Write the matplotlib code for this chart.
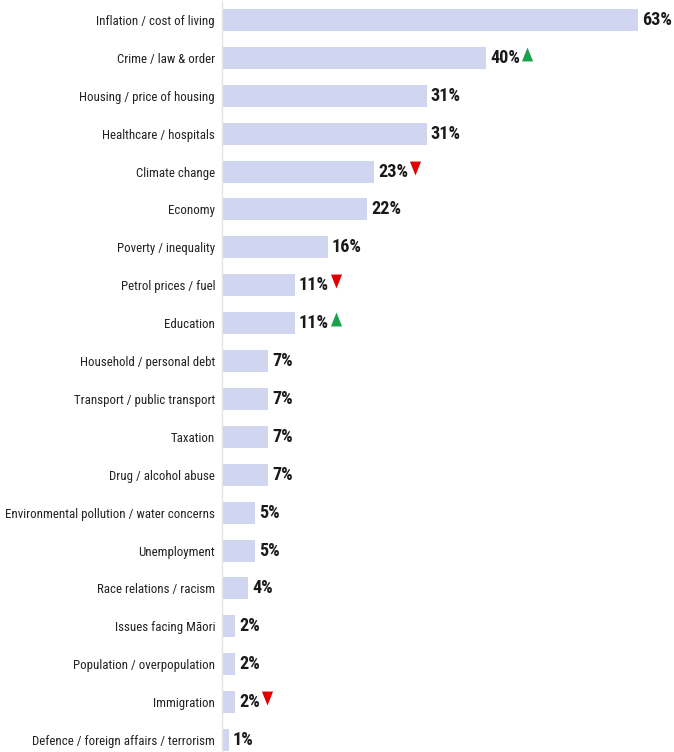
import matplotlib
matplotlib.use("Agg")
import matplotlib.pyplot as plt
from matplotlib import font_manager

issues = [
    "Inflation / cost of living",
    "Crime / law & order",
    "Housing / price of housing",
    "Healthcare / hospitals",
    "Climate change",
    "Economy",
    "Poverty / inequality",
    "Petrol prices / fuel",
    "Education",
    "Household / personal debt",
    "Transport / public transport",
    "Taxation",
    "Drug / alcohol abuse",
    "Environmental pollution / water concerns",
    "Unemployment",
    "Race relations / racism",
    "Issues facing Māori",
    "Population / overpopulation",
    "Immigration",
    "Defence / foreign affairs / terrorism",
]
shares = [63, 40, 31, 31, 23, 22, 16, 11, 11, 7, 7, 7, 7, 5, 5, 4, 2, 2, 2, 1]
# change since last survey: "up", "down" or ""
changes = ["", "up", "", "", "down", "", "", "down", "up", "", "", "", "", "", "", "", "", "", "down", ""]

longest = "Environmental pollution / water concerns"

sans_families = ("DejaVu Sans", "Liberation Sans", "Noto Sans", "Roboto", "Open Sans", "Lato", "Inter")
style_words = {"Condensed", "SemiCondensed", "ExtraCondensed", "UltraCondensed", "Narrow",
               "Semi", "Extra", "Ultra", "Display", "Light", "Medium", "SemiBold", "Bold",
               "Black", "Thin", "ExtraBold", "ExtraLight", "Regular"}


def plain_sans(name):
    for base in sans_families:
        if name.startswith(base):
            rest = name[len(base):].split()
            return all(w in style_words for w in rest)
    return False


def weight_of(f):
    w = f.weight
    if isinstance(w, str):
        return font_manager.weight_dict.get(w, 400)
    return w


def narrowness(fname, sample):
    # text width relative to cap height; smaller means more condensed
    ft = font_manager.get_font(fname)
    if ft.get_char_index(ord("ā")) == 0 or ft.get_char_index(ord("%")) == 0:
        return None
    ft.set_size(50, 72)
    ft.set_text(sample)
    w = ft.get_width_height()[0]
    ft.set_text("H")
    h = ft.get_width_height()[1]
    return w / h


def pick(lo, hi, sample):
    best, best_r = None, None
    for f in font_manager.fontManager.ttflist:
        if f.style != "normal" or not (lo <= weight_of(f) <= hi) or not plain_sans(f.name):
            continue
        try:
            r = narrowness(f.fname, sample)
        except Exception:
            continue
        if r is not None and (best_r is None or r < best_r):
            best, best_r = f.fname, r
    return best


regular_file = pick(350, 500, longest)
bold_file = pick(650, 800, "63%")

fig = plt.figure(figsize=(6.74, 7.52), dpi=100)
renderer = fig.canvas.get_renderer()


def fit_size(text, fname, width_px, cap_px):
    # largest size that keeps `text` within width_px and caps within cap_px
    ft = font_manager.get_font(fname)
    ft.set_size(10, 100)
    ft.set_text(text)
    w = ft.get_width_height()[0] / 64
    ft.set_text("H")
    h = ft.get_width_height()[1] / 64
    return min(10 * width_px / w, 10 * cap_px / h)


label_font = font_manager.FontProperties(fname=regular_file, size=fit_size(longest, regular_file, 207, 13))
value_font = font_manager.FontProperties(fname=bold_file, size=fit_size("63%", bold_file, 30, 16))

ax = fig.add_axes([222 / 674, -7 / 752, 416 / 674, 758 / 752])

ypos = list(range(len(issues)))
ax.barh(ypos, shares, height=0.58, color="#d0d6ef")
ax.set_ylim(len(issues) - 0.5, -0.5)
ax.set_xlim(0, 63)

ax.set_yticks(ypos)
ax.set_yticklabels(issues, fontproperties=label_font, color="#222222")
ax.tick_params(axis="y", length=0, pad=5)
ax.set_xticks([])
for side in ["top", "right", "bottom"]:
    ax.spines[side].set_visible(False)
ax.spines["left"].set_color("#e4e4e4")
ax.spines["left"].set_linewidth(1)

up_marker = [(-0.4, -0.5), (0.4, -0.5), (0, 0.5)]
down_marker = [(-0.4, 0.5), (0.4, 0.5), (0, -0.5)]

to_data = ax.transData.inverted()
for y, v, c in zip(ypos, shares, changes):
    t = ax.annotate(f"{v}%", xy=(v, y), xytext=(3, 0), textcoords="offset points",
                    ha="left", va="center", fontproperties=value_font,
                    color="#1a1a1a", annotation_clip=False)
    if c:
        box = t.get_window_extent(renderer)
        row = ax.transData.transform((v, y))
        mx, my = to_data.transform((box.x1 + 7, row[1] + 4))
        ax.scatter([mx], [my], marker=up_marker if c == "up" else down_marker,
                   s=100, color="#17a34a" if c == "up" else "#e00000",
                   linewidths=0, clip_on=False, zorder=3)

fig.savefig("out.png", dpi=100)
plt.close(fig)
